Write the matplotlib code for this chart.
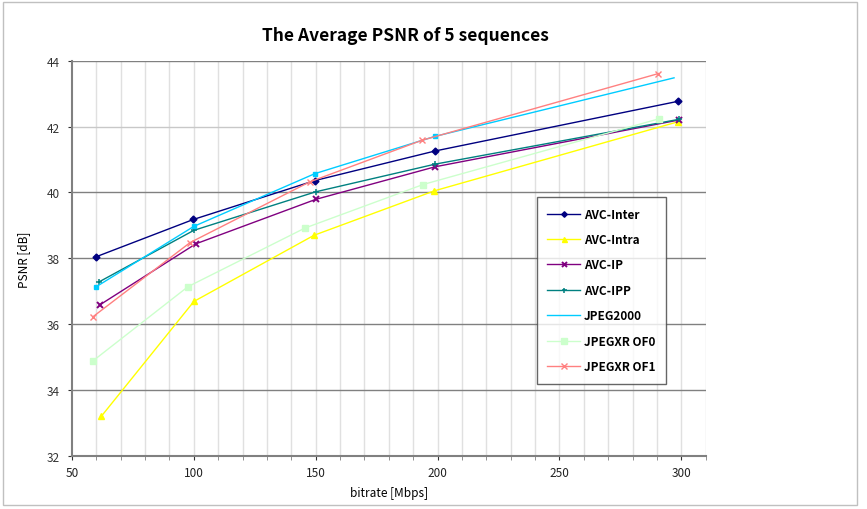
import matplotlib.pyplot as plt
from matplotlib.patches import Rectangle

plt.rcParams['font.family'] = ['Noto Sans CJK JP', 'DejaVu Sans']

# average PSNR per codec (bitrate in Mbps, PSNR in dB)
inter_x = [60.0, 99.8, 149.6, 199.0, 298.8]
inter_y = [38.05, 39.18, 40.36, 41.26, 42.77]

intra_x = [62.0, 100.0, 149.3, 198.7, 298.8]
intra_y = [33.20, 36.69, 38.70, 40.05, 42.15]

ip_x = [61.5, 100.8, 150.0, 199.0, 299.0]
ip_y = [36.59, 38.44, 39.79, 40.78, 42.20]

ipp_x = [61.0, 100.0, 150.0, 199.0, 299.0]
ipp_y = [37.28, 38.85, 40.02, 40.86, 42.22]

j2k_x = [59.8, 100.0, 149.6, 198.8, 297.0]
j2k_y = [37.13, 38.97, 40.57, 41.70, 43.48]

of0_x = [58.5, 97.6, 145.6, 194.0, 291.0]
of0_y = [34.88, 37.14, 38.92, 40.24, 42.24]

of1_x = [58.5, 98.5, 147.5, 193.4, 290.6]
of1_y = [36.22, 38.48, 40.32, 41.58, 43.61]

fig = plt.figure(figsize=(8.67, 5.10), dpi=100)
ax = fig.add_axes([0.083, 0.104, 0.731, 0.775])

# light vertical grid every 10 Mbps, darker horizontal grid every 2 dB
for xv in range(60, 311, 10):
    ax.axvline(xv, color='#e0e0e0', lw=1.0, zorder=0)
for yv in range(34, 45, 2):
    ax.axhline(yv, color='#c8c8c8' if yv == 42 else '#808080', lw=1.0, zorder=0.5)

ax.plot(inter_x, inter_y, color='#000080', lw=1.0, marker='D', ms=3.5, label='AVC-Inter')
ax.plot(intra_x, intra_y, color='#ffff00', lw=1.0, marker='^', ms=4.5, label='AVC-Intra')
ax.plot(ip_x, ip_y, color='#800080', lw=1.0, marker='x', ms=4.5, mew=1.4, label='AVC-IP')
ax.plot(ipp_x, ipp_y, color='#008080', lw=1.0, marker='+', ms=4.5, mew=1.1, label='AVC-IPP')
ax.plot(j2k_x[:-1], j2k_y[:-1], color='#00ccff', lw=1.0, marker='s', ms=3, ls='none')
ax.plot(j2k_x, j2k_y, color='#00ccff', lw=1.0, label='JPEG2000')
ax.plot(of0_x, of0_y, color='#ccffcc', lw=1.0, marker='s', ms=5, label='JPEGXR OF0')
ax.plot(of1_x, of1_y, color='#ff8080', lw=1.0, marker='x', ms=5, mew=1.0, label='JPEGXR OF1')

ax.set_xlim(50, 310)
ax.set_ylim(32, 44)
ax.set_xticks(range(50, 301, 50))
ax.set_xticks(range(60, 311, 10), minor=True)
ax.set_yticks(range(32, 45, 2))
ax.tick_params(axis='both', labelsize=8.5, colors='#333333', length=3, width=0.8, pad=6)
ax.tick_params(axis='x', which='minor', length=3, width=0.6, colors='#808080')
ax.tick_params(axis='x', labelcolor='#222222', pad=4)

for side in ('top', 'right'):
    ax.spines[side].set_visible(False)
for side in ('left', 'bottom'):
    ax.spines[side].set_color('#808080')
    ax.spines[side].set_linewidth(1.5)

ax.set_xlabel('bitrate [Mbps]', fontsize=8.5, labelpad=5)
ax.set_ylabel('PSNR [dB]', fontsize=8.5, labelpad=12)

fig.text(0.468, 0.93, 'The Average PSNR of 5 sequences', ha='center', va='center',
         fontsize=12.5, fontweight='bold')

leg = ax.legend(loc='upper left', bbox_to_anchor=(0.733, 0.655), fontsize=8.5,
                frameon=True, fancybox=False, labelspacing=1.05, handlelength=2.8,
                handletextpad=0.3, borderpad=0.9, borderaxespad=0, markerscale=0.8)
leg.get_frame().set_edgecolor('#404040')
leg.get_frame().set_linewidth(1.0)
for t in leg.get_texts():
    t.set_fontweight('bold')

# thin outer frame
fig.patches.append(Rectangle((0.004, 0.008), 0.984, 0.986, transform=fig.transFigure,
                             fill=False, edgecolor='#c0c0c0', lw=1.0))

fig.savefig('out.png', dpi=100)
